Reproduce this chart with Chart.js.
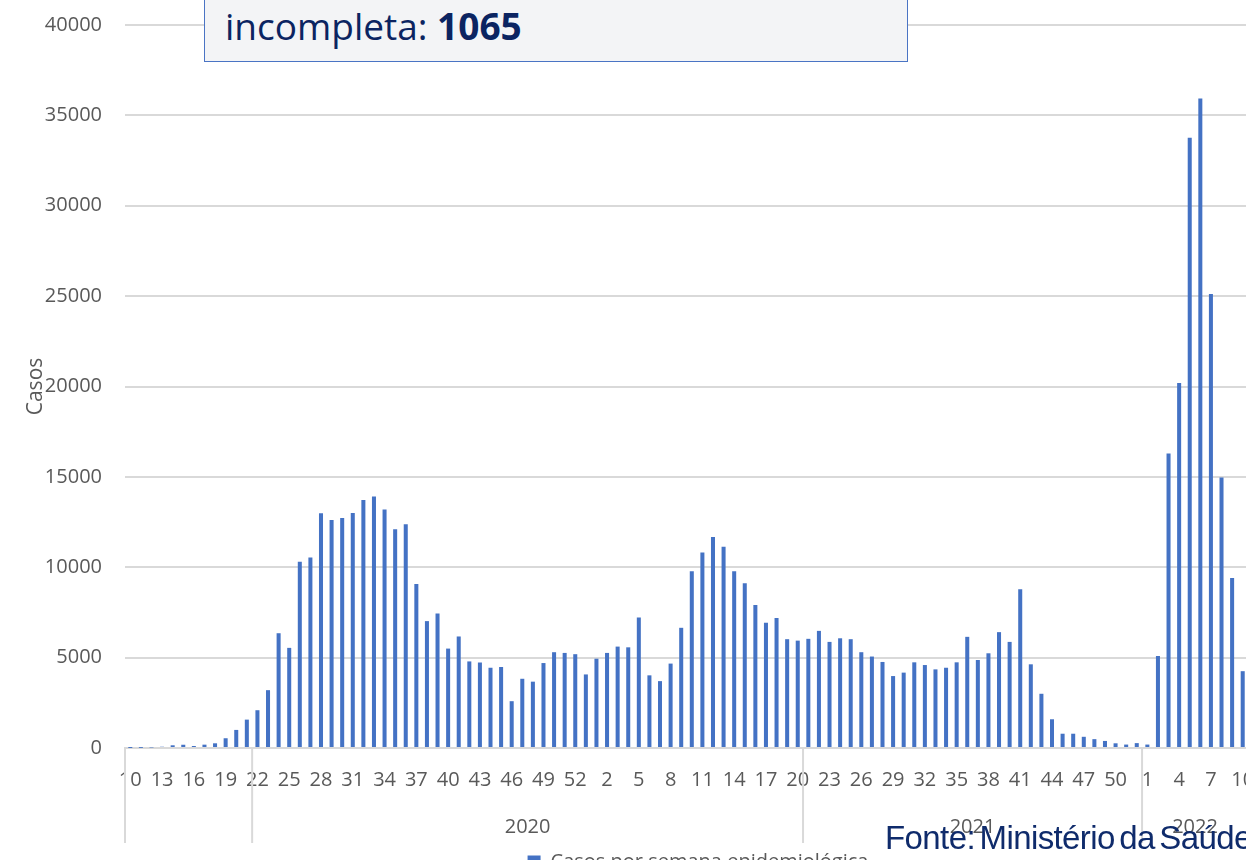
<!DOCTYPE html>
<html>
<head>
<meta charset="utf-8">
<script src="https://cdn.jsdelivr.net/npm/chart.js@4.4.1/dist/chart.umd.min.js"></script>
<style>
  body { margin: 0; background: #fff; overflow: hidden; }
  #wrap { position: relative; width: 1246px; height: 860px; overflow: hidden; }
  #chart { position: absolute; left: 0; top: 0; }
  .note-box {
    position: absolute; left: 204px; top: -40px; width: 702px; height: 100px;
    background: #f3f4f6; border: 1.5px solid #4a74c4;
  }
  .note-text {
    position: absolute; left: 225px; top: 7px; line-height: 1;
    font-family: 'Open Sans', sans-serif; font-size: 37px; color: #0b2461;
    white-space: nowrap;
  }
  .source {
    position: absolute; left: 885px; top: 821px; line-height: 1;
    font-family: 'Liberation Sans', Arial, sans-serif; font-size: 33px; color: #0f2b6b;
    letter-spacing: -0.6px; word-spacing: -4px; white-space: nowrap;
  }
</style>
</head>
<body>
<div id="wrap">
  <canvas id="chart" width="1396" height="882"></canvas>
  <div class="note-box"></div>
  <div class="note-text">incompleta: <b>1065</b></div>
  <div class="source">Fonte: Ministério da Saúde</div>
</div>
<script>
// semanas epidemiológicas (2020 sem 10 ... 2022 sem 10)
const weeks = [
  10, 11, 12, 13, 14, 15, 16, 17, 18, 19, 20, 21, 22, 23, 24, 25, 26, 27, 28, 29, 30, 31,
  32, 33, 34, 35, 36, 37, 38, 39, 40, 41, 42, 43, 44, 45, 46, 47, 48, 49, 50, 51, 52, 53,
  1, 2, 3, 4, 5, 6, 7, 8, 9, 10, 11, 12, 13, 14, 15, 16, 17, 18, 19, 20, 21, 22, 23, 24, 25, 26,
  27, 28, 29, 30, 31, 32, 33, 34, 35, 36, 37, 38, 39, 40, 41, 42, 43, 44, 45, 46, 47, 48, 49, 50, 51, 52,
  1, 2, 3, 4, 5, 6, 7, 8, 9, 10
];

const cases = [
  2, 8, 30, 70, 150, 180, 110, 185, 260, 540, 1000, 1570, 2090, 3200, 6350, 5540, 10300, 10540, 12990, 12620, 12730, 13000,
  13720, 13910, 13190, 12100, 12380, 9070, 7020, 7440, 5500, 6170, 4790, 4730, 4440, 4480, 2590, 3830, 3670, 4700, 5300, 5260, 5190, 4070,
  4940, 5260, 5610, 5570, 7220, 4020, 3700, 4670, 6650, 9780, 10810, 11670, 11130, 9780, 9110, 7910, 6930, 7190, 6020, 5940, 6040, 6480, 5870, 6070, 6020, 5300,
  5060, 4760, 3980, 4170, 4740, 4590, 4350, 4440, 4740, 6150, 4870, 5240, 6410, 5870, 8780, 4630, 3000, 1590, 790, 790, 620, 490, 390, 260, 190, 270,
  190, 5090, 16290, 20200, 33760, 35940, 25120, 14970, 9410, 4250
];

// segundo nivel do eixo (como no original)
const groupLabels = ['', '2020', '2021', '2022'];
const groupSizes = [12, 52, 32, 10];

const yTicks = [0, 5000, 10000, 15000, 20000, 25000, 30000, 35000, 40000];

const tickFont = { family: 'Open Sans', size: 20 };
const tickColor = '#595959';
const gridColor = '#d9d9d9';

// draws year groups under the week labels
const groupAxis = {
  id: 'groupAxis',
  afterDraw(chart) {
    const x = chart.scales.x;
    const c = chart.ctx;
    const half = (x.getPixelForValue(1) - x.getPixelForValue(0)) / 2;
    let start = 0;
    c.save();
    c.strokeStyle = gridColor;
    c.lineWidth = 2;
    c.fillStyle = tickColor;
    c.font = '20px "Open Sans"';
    c.textAlign = 'center';
    c.textBaseline = 'middle';
    groupSizes.forEach((n, g) => {
      const left = x.getPixelForValue(start) - half;
      const right = x.getPixelForValue(start + n - 1) + half;
      c.beginPath();
      c.moveTo(left, x.top);
      c.lineTo(left, x.top + 95);
      c.stroke();
      if (groupLabels[g]) c.fillText(groupLabels[g], (left + right) / 2, x.top + 79);
      start += n;
    });
    const end = x.getPixelForValue(weeks.length - 1) + half;
    c.beginPath();
    c.moveTo(end, x.top);
    c.lineTo(end, x.top + 95);
    c.stroke();
    c.restore();
  }
};

new Chart(document.getElementById('chart'), {
  type: 'bar',
  data: {
    labels: weeks,
    datasets: [{
      label: 'Casos por semana epidemiológica',
      data: cases,
      backgroundColor: '#4472c4',
      categoryPercentage: 1,
      barPercentage: 0.38
    }]
  },
  options: {
    responsive: false,
    animation: false,
    layout: { padding: { left: 0, right: 0, top: 25, bottom: 0 } },
    scales: {
      x: {
        grid: { display: false },
        border: { color: gridColor, width: 2 },
        ticks: {
          autoSkip: false,
          maxRotation: 0,
          minRotation: 0,
          padding: 12,
          font: tickFont,
          color: tickColor,
          callback: (v, i) => (i % 3 === 0 ? String(weeks[i]) : '')
        },
        afterFit: (s) => { s.height = 94; s.paddingLeft = 0; s.paddingRight = 0; }
      },
      y: {
        min: 0,
        max: 40000,
        afterBuildTicks: (s) => { s.ticks = yTicks.map(v => ({ value: v })); },
        grid: { color: gridColor, lineWidth: 2, drawTicks: false },
        border: { display: false },
        ticks: { padding: 23, font: tickFont, color: tickColor, callback: (v) => String(v) },
        title: {
          display: true,
          text: 'Casos',
          font: { family: 'Open Sans', size: 21 },
          color: tickColor,
          padding: { top: 23, bottom: 0 }
        },
        afterFit: (s) => { s.width = 125; s.paddingTop = 0; s.paddingBottom = 0; }
      },
      // empty space right of the plot (chart is cropped there in the original)
      yr: {
        type: 'linear',
        position: 'right',
        grid: { display: false },
        border: { display: false },
        ticks: { display: false },
        afterFit: (s) => { s.width = 148; s.paddingTop = 0; s.paddingBottom = 0; }
      }
    },
    plugins: {
      legend: {
        position: 'bottom',
        labels: { boxWidth: 13, boxHeight: 13, font: tickFont, color: tickColor, padding: 10 }
      },
      tooltip: { enabled: false }
    }
  },
  plugins: [groupAxis]
});
</script>
</body>
</html>
